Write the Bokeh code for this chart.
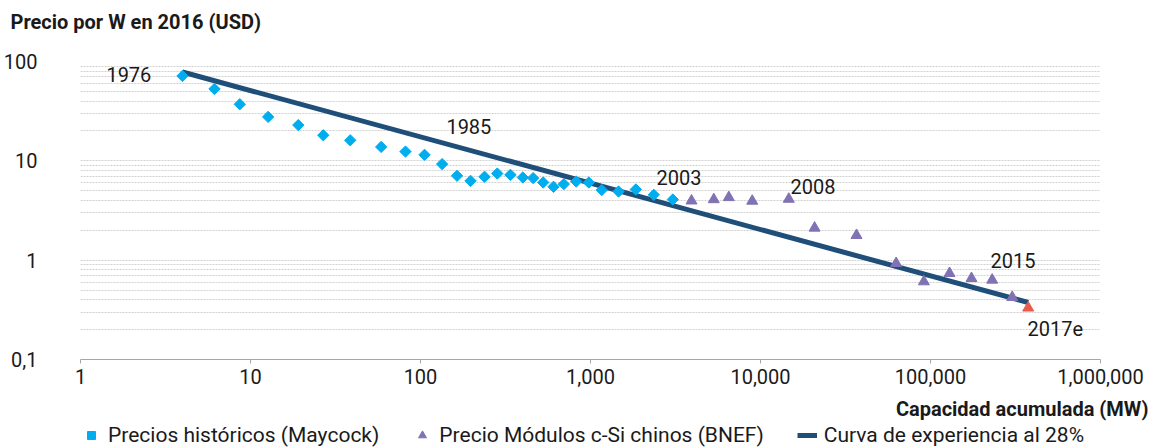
import math
from bokeh.plotting import figure
from bokeh.layouts import column
from bokeh.models import (FixedTicker, Legend, LegendItem, ColumnDataSource, Range1d)
from bokeh.core.properties import value
from bokeh.embed import file_html
from bokeh.resources import INLINE

# ---- data ----
maycock_mw = [3.98, 6.14, 8.65, 12.7, 19.1, 26.8, 38.6, 58.7, 81.6, 105.6, 134, 164, 197, 238,
              283, 338, 400, 460, 527, 606, 697, 824, 977, 1165, 1462, 1847, 2357, 3051]
maycock_price = [71.5, 53.0, 37.1, 27.7, 22.9, 18.1, 16.1, 13.8, 12.4, 11.5, 9.27, 7.07, 6.29, 6.91,
                 7.45, 7.23, 6.80, 6.70, 6.05, 5.48, 5.83, 6.19, 6.05, 5.08, 4.91, 5.15, 4.55, 4.08]
bnef_mw = [3927, 5310, 6510, 8940, 14670, 20800, 36700, 62800, 91400, 129400, 174200, 230600, 302600]
bnef_price = [3.96, 4.08, 4.28, 3.94, 4.12, 2.11, 1.78, 0.929, 0.608, 0.737, 0.656, 0.632, 0.423]
est_mw = [375600]
est_price = [0.331]
curve_mw = [3.98, 375600]
curve_price = [78.4, 0.375]

year_labels = ["1976", "1985", "2003", "2008", "2015", "2017e"]
year_label_mw = [1.42, 142, 2445, 15000, 225500, 372000]
year_label_price = [74.8, 22.0, 6.75, 5.48, 0.989, 0.205]

x_ticks = [1, 10, 100, 1000, 10000, 100000, 1000000]
x_tick_labels = ["1", "10", "100", "1,000", "10,000", "100,000", "1,000,000"]
y_ticks = [0.1, 1, 10, 100]
y_tick_labels = ["0,1", "1", "10", "100"]

title_text = "Precio por W en 2016 (USD)"
x_title_text = "Capacidad acumulada (MW)"
legend_labels = ["Precios históricos (Maycock)", "Precio Módulos c-Si chinos (BNEF)",
                 "Curva de experiencia al 28%"]

# ---- styles ----
FONT = "Roboto"
FS = "20px"
C_MAY = "#00aeef"
C_BNEF = "#8072b4"
C_EST = "#e85a4a"
C_CURVE = "#1f4e79"
C_GRID = "#d0d0d0"
C_TEXT = "#1a1a1a"
W = 1152


def blank_fig(h):
    f = figure(width=W, height=h, x_range=Range1d(0, W), y_range=Range1d(0, h),
               min_border=0, x_axis_location=None, y_axis_location=None,
               output_backend="svg", toolbar_location=None, outline_line_color=None,
               background_fill_color="white", border_fill_color="white")
    f.xgrid.visible = False
    f.ygrid.visible = False
    f.frame_align = False
    return f


# ---- top strip: chart title ----
p0 = blank_fig(40)
p0.text(x=[10], y=[19], text=[title_text], text_font=value(FONT), text_font_size=FS,
        text_font_style="bold", text_align="left", text_baseline="alphabetic", text_color=C_TEXT)

# ---- main chart ----
p = figure(x_axis_type="log", y_axis_type="log", x_range=(1, 1e6), y_range=(0.1, 100),
           width=W, height=353,
           min_border_left=80, min_border_right=52, min_border_top=21, min_border_bottom=34,
           output_backend="svg", toolbar_location=None, outline_line_color=None,
           background_fill_color="white", border_fill_color="white")
p.frame_align = False

p.xaxis.ticker = FixedTicker(ticks=x_ticks, minor_ticks=[])
p.xaxis.major_label_overrides = dict(zip(x_ticks, x_tick_labels))
p.xaxis.axis_line_color = "#a6a6a6"
p.xaxis.major_tick_line_color = "#a6a6a6"
p.xaxis.major_tick_out = 4
p.xaxis.major_tick_in = 0
p.xaxis.minor_tick_line_color = None
p.xaxis.major_label_standoff = 5
p.xaxis.major_label_text_font = FONT
p.xaxis.major_label_text_font_size = FS
p.xaxis.major_label_text_color = C_TEXT

minor_y = []
for dec in [0.1, 1, 10]:
    for k in range(2, 10):
        minor_y.append(dec * k)
p.yaxis.ticker = FixedTicker(ticks=y_ticks, minor_ticks=minor_y)
p.yaxis.major_label_overrides = dict(zip(y_ticks, y_tick_labels))
p.yaxis.axis_line_color = None
p.yaxis.major_tick_line_color = None
p.yaxis.minor_tick_line_color = None
p.yaxis.major_label_standoff = 37
p.yaxis.major_label_text_font = FONT
p.yaxis.major_label_text_font_size = FS
p.yaxis.major_label_text_color = C_TEXT

p.xgrid.grid_line_color = None
p.ygrid.grid_line_color = C_GRID
p.ygrid.grid_line_dash = "2 1"
p.ygrid.minor_grid_line_color = C_GRID
p.ygrid.minor_grid_line_dash = "2 1"

p.line(curve_mw, curve_price, line_width=5, line_color=C_CURVE)
p.scatter(maycock_mw, maycock_price, marker="square", angle=math.pi / 4, size=8,
          fill_color=C_MAY, line_color=C_MAY)
p.scatter(bnef_mw, bnef_price, marker="triangle", size=11, fill_color=C_BNEF, line_color=C_BNEF)
p.scatter(est_mw, est_price, marker="triangle", size=11, fill_color=C_EST, line_color=C_EST)

src = ColumnDataSource(dict(x=year_label_mw, y=year_label_price, t=year_labels))
p.text(x="x", y="y", text="t", source=src, text_font=value(FONT), text_font_size=FS,
       text_align="left", text_baseline="middle", text_color=C_TEXT)

# ---- bottom strip: x-axis title and legend ----
H2 = 55
p2 = blank_fig(H2)
p2.text(x=[1148], y=[40], text=[x_title_text], text_font=value(FONT), text_font_size=FS,
        text_font_style="bold", text_align="right", text_baseline="alphabetic", text_color=C_TEXT)

# legend-only renderers (one point each, outside the visible strip)
lg_may = p2.scatter(x=[-100], y=[-100], marker="square", angle=math.pi / 4, size=8,
                    fill_color=C_MAY, line_color=C_MAY)
lg_bnef = p2.scatter(x=[-100], y=[-100], marker="triangle", size=11,
                     fill_color=C_BNEF, line_color=C_BNEF)
lg_curve = p2.line(x=[-100, -90], y=[-100, -100], line_width=5, line_color=C_CURVE)

legend = Legend(items=[LegendItem(label=legend_labels[0], renderers=[lg_may]),
                       LegendItem(label=legend_labels[1], renderers=[lg_bnef]),
                       LegendItem(label=legend_labels[2], renderers=[lg_curve])],
                orientation="horizontal", location=(81, 1),
                label_text_font=FONT, label_text_font_size="21px", label_text_color=C_TEXT,
                glyph_width=20, glyph_height=20, label_standoff=7, spacing=33,
                padding=0, margin=0, border_line_color=None, background_fill_alpha=0)
p2.add_layout(legend)

layout = column(p0, p, p2, spacing=0)
open("out.html", "w").write(file_html(layout, INLINE))
